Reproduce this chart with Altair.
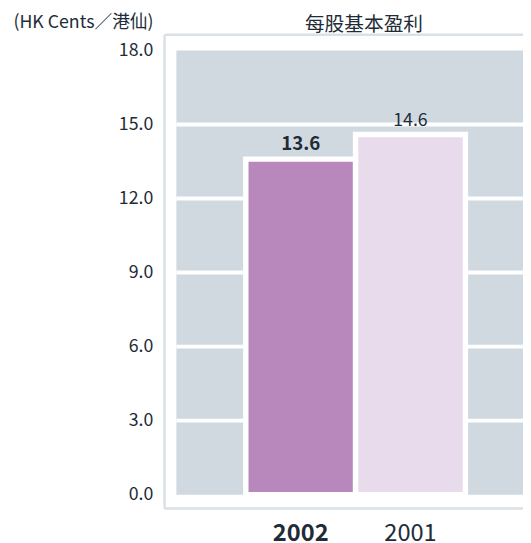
import altair as alt
import pandas as pd

# ---- data ----
years = ["2002", "2001"]
eps = [13.6, 14.6]
bar_colors = ["#b888bc", "#e8dbec"]
y_ticks = [0, 3, 6, 9, 12, 15, 18]
grid_vals = [3, 6, 9, 12, 15]
chart_title = ["每股基本盈利"]
y_title = "(HK Cents／港仙)"

FONT = "Noto Sans CJK TC"
TEXT = "#1e2c38"
GRAY = "#d1d9e0"
FRAME = "#dae1e6"

df = pd.DataFrame({"year": years, "eps": eps})
one = pd.DataFrame({"t": chart_title})
grid_df = pd.DataFrame({"g": grid_vals})

x_enc = alt.X(
    "year:N",
    sort=years,
    scale=alt.Scale(range=[70.5, 293.5], paddingInner=0, paddingOuter=0),
    axis=alt.Axis(
        title=None, labelAngle=0, domain=False, ticks=False, grid=False,
        labelPadding=28, labelFontSize=24, labelFont=FONT, labelColor=TEXT,
        labelBaseline="top",
        labelFontWeight={"condition": {"test": "datum.value == '2002'", "value": "bold"},
                         "value": "normal"},
    ),
)
y_enc = alt.Y(
    "eps:Q",
    scale=alt.Scale(domain=[0, 18], nice=False),
    axis=alt.Axis(
        values=y_ticks, format=".1f", domain=False, ticks=False, grid=False,
        labelPadding=24, labelFontSize=18, labelFont=FONT, labelColor=TEXT,
        title=y_title, titleAngle=0, titleAlign="left", titleBaseline="middle",
        titleX=-166, titleY=-28, titleFont=FONT, titleFontSize=18,
        titleFontWeight="normal", titleColor=TEXT,
    ),
)

grid = alt.Chart(grid_df).mark_rule(color="white", strokeWidth=4).encode(
    y=alt.Y("g:Q"))

base = alt.Chart(df)

bars = base.mark_bar(stroke="white", strokeWidth=5.5).encode(
    x=x_enc,
    y=y_enc,
    color=alt.Color("year:N", scale=alt.Scale(domain=years, range=bar_colors), legend=None),
)

lbl_bold = base.transform_filter(alt.datum.year == "2002").mark_text(
    dy=-9, baseline="alphabetic", fontSize=19, font=FONT, fontWeight="bold", color=TEXT
).encode(x=alt.X("year:N", sort=years), y="eps:Q", text=alt.Text("eps:Q", format=".1f"))

lbl_norm = base.transform_filter(alt.datum.year == "2001").mark_text(
    dy=-9, baseline="alphabetic", fontSize=18, font=FONT, fontWeight="normal", color=TEXT
).encode(x=alt.X("year:N", sort=years), y="eps:Q", text=alt.Text("eps:Q", format=".1f"))

fr = alt.Chart(one)
frame_left = fr.mark_rule(color=FRAME, strokeWidth=2.5).encode(
    x=alt.value(-12), y=alt.value(-16), y2=alt.value(465))
frame_top = fr.mark_rule(color=FRAME, strokeWidth=2.5).encode(
    x=alt.value(-12), x2=alt.value(380), y=alt.value(-16))
frame_bot = fr.mark_rule(color=FRAME, strokeWidth=2.5).encode(
    x=alt.value(-12), x2=alt.value(380), y=alt.value(465))

title = fr.mark_text(
    fontSize=20, font=FONT, baseline="bottom", align="center", color=TEXT
).encode(x=alt.value(190.5), y=alt.value(-16), text="t:N")

chart = alt.layer(frame_left, frame_top, frame_bot, grid, bars, lbl_bold, lbl_norm, title).properties(
    width=352, height=451,
    padding={"left": 171, "top": 39, "right": 0, "bottom": 50},
    autosize="none",
    background="white",
).configure_view(fill=GRAY, strokeWidth=0)

chart.save("out.html", embed_options={"renderer": "svg", "actions": False})
